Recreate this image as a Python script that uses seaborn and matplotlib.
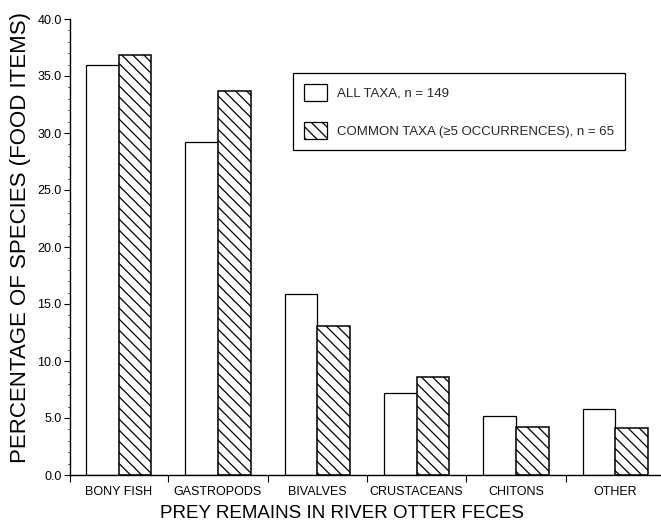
import numpy as np
import pandas as pd
import matplotlib
matplotlib.use("Agg")
import matplotlib.pyplot as plt
from matplotlib.patches import Patch
from matplotlib.ticker import MultipleLocator, FixedLocator, FormatStrFormatter
import seaborn as sns

# Prey categories and percentage of species for each taxa grouping
categories = ["BONY FISH", "GASTROPODS", "BIVALVES", "CRUSTACEANS", "CHITONS", "OTHER"]
all_taxa = [36.0, 29.2, 15.9, 7.2, 5.2, 5.8]
common_taxa = [36.8, 33.7, 13.1, 8.6, 4.2, 4.1]
series_labels = ["ALL TAXA, n = 149", "COMMON TAXA (\u22655 OCCURRENCES), n = 65"]
y_ticks = [0, 5, 10, 15, 20, 25, 30, 35, 40]

df = pd.DataFrame({
    "prey": categories * 2,
    "pct": all_taxa + common_taxa,
    "group": [series_labels[0]] * len(categories) + [series_labels[1]] * len(categories),
})

HATCH = "\\\\\\"

sns.set_style("ticks")
plt.rcParams["font.family"] = ["Liberation Sans", "DejaVu Sans"]
plt.rcParams["hatch.color"] = "black"
plt.rcParams["hatch.linewidth"] = 0.9

fig = plt.figure(figsize=(6.61, 5.21), dpi=100)
ax = fig.add_axes([70 / 661, 46 / 521, 591 / 661, 456 / 521])

sns.barplot(data=df, x="prey", y="pct", hue="group", order=categories,
            hue_order=series_labels, palette=["white", "white"],
            edgecolor="black", linewidth=0.9, width=0.66, gap=0,
            legend=False, ax=ax)

# hatch the second series
for bar in ax.containers[1]:
    bar.set_hatch(HATCH)
    bar.set_linewidth(1.1)

ax.set_xlim(-0.49, len(categories) - 0.54)
ax.set_ylim(0, 40)

# y axis: labelled majors every 5, small minors every 1
ax.yaxis.set_major_locator(FixedLocator(y_ticks))
ax.yaxis.set_major_formatter(FormatStrFormatter("%.1f"))
ax.yaxis.set_minor_locator(MultipleLocator(1))
ax.tick_params(axis="y", which="major", length=4, width=0.8, pad=2,
               labelsize=9, color="black", labelcolor="black", direction="out")
ax.tick_params(axis="y", which="minor", length=1.5, width=0.6, color="black", direction="out")

# x axis: labels centred under groups, ticks at group boundaries
ax.tick_params(axis="x", which="major", length=0, pad=8, labelsize=9, labelcolor="black")
bounds = [ax.get_xlim()[0]] + list(np.arange(len(categories) - 1) + 0.5)
ax.xaxis.set_minor_locator(FixedLocator(bounds))
ax.tick_params(axis="x", which="minor", length=5, width=0.8, color="black", direction="out")

for side in ["top", "right"]:
    ax.spines[side].set_visible(False)
for side in ["left", "bottom"]:
    ax.spines[side].set_color("black")
    ax.spines[side].set_linewidth(1.0)

ax.set_xlabel("PREY REMAINS IN RIVER OTTER FECES", fontsize=13.5, color="black")
ax.xaxis.set_label_coords((342 - 70) / 591, -0.066)
ax.set_ylabel("PERCENTAGE OF SPECIES (FOOD ITEMS)", fontsize=16, color="black")
ax.yaxis.set_label_coords(-0.066, 0.52)

handles = [
    Patch(facecolor="white", edgecolor="black", linewidth=0.9, label=series_labels[0]),
    Patch(facecolor="white", edgecolor="black", linewidth=0.9, hatch=HATCH, label=series_labels[1]),
]
leg = ax.legend(handles=handles, loc="upper left", bbox_to_anchor=(0.377, 0.882),
                borderaxespad=0, frameon=True, fancybox=False, shadow=False,
                fontsize=9.5, handlelength=1.75, handleheight=1.55, handletextpad=0.75,
                labelspacing=1.65, borderpad=0.85)
leg.get_frame().set_edgecolor("black")
leg.get_frame().set_linewidth(0.9)
leg.get_frame().set_alpha(1)

fig.savefig("out.png", dpi=100)
